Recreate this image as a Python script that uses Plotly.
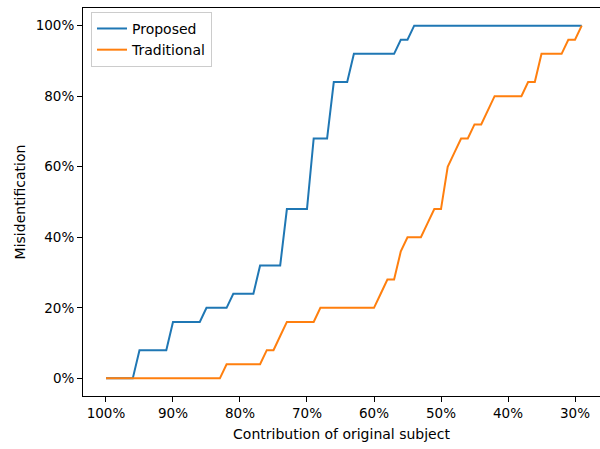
import plotly.graph_objects as go

# Contribution of original subject (%), from 100% down to 29%
contribution = list(range(100, 28, -1))

proposed = [
    0, 0, 0, 0, 0,            # 100-96
    8, 8, 8, 8, 8,            # 95-91
    16, 16, 16, 16, 16,       # 90-86
    20, 20, 20, 20,           # 85-82
    24, 24, 24, 24,           # 81-78
    32, 32, 32, 32,           # 77-74
    48, 48, 48, 48,           # 73-70
    68, 68, 68,               # 69-67
    84, 84, 84,               # 66-64
    92, 92, 92, 92, 92, 92, 92,  # 63-57
    96, 96,                   # 56-55
] + [100] * 26                # 54-29

traditional = [0] * 18 + [   # 100-83
    4, 4, 4, 4, 4, 4,         # 82-77
    8, 8,                     # 76-75
    12,                       # 74
    16, 16, 16, 16, 16,       # 73-69
    20, 20, 20, 20, 20, 20, 20, 20, 20,  # 68-60
    24, 28, 28, 36, 40, 40, 40, 44, 48, 48,  # 59-50
    60, 64, 68, 68, 72, 72, 76,  # 49-43
    80, 80, 80, 80, 80,       # 42-38
    84, 84,                   # 37-36
    92, 92, 92, 92,           # 35-32
    96, 96,                   # 31-30
    100,                      # 29
]

x_ticks = [100, 90, 80, 70, 60, 50, 40, 30]
x_tick_labels = ["100%", "90%", "80%", "70%", "60%", "50%", "40%", "30%"]
y_ticks = [0, 20, 40, 60, 80, 100]
y_tick_labels = ["0%", "20%", "40%", "60%", "80%", "100%"]

fig = go.Figure()
fig.add_trace(go.Scatter(x=contribution, y=proposed, mode="lines", name="Proposed",
                         line=dict(color="#1f77b4", width=2)))
fig.add_trace(go.Scatter(x=contribution, y=traditional, mode="lines", name="Traditional",
                         line=dict(color="#ff7f0e", width=2)))

font = dict(family="DejaVu Sans", size=14, color="#000000")
fig.update_layout(
    width=600, height=449,
    margin=dict(l=83, r=0, t=8, b=53),
    paper_bgcolor="white", plot_bgcolor="white",
    font=font,
    showlegend=True,
    legend=dict(x=0.0155, y=0.99, xanchor="left", yanchor="top",
                bgcolor="rgba(255,255,255,0.8)", bordercolor="#cccccc", borderwidth=1,
                font=dict(family="DejaVu Sans", size=14, color="#000000"),
                itemwidth=30, tracegroupgap=0),
)
fig.update_xaxes(
    range=[103.43, 26.27], tickmode="array", tickvals=x_ticks, ticktext=x_tick_labels,
    showgrid=False, zeroline=False,
    showline=True, linecolor="black", linewidth=1, mirror=True,
    ticks="outside", ticklen=5, tickcolor="black", tickwidth=1,
    tickfont=dict(family="DejaVu Sans", size=13.5, color="#000000"),
    title=dict(text="Contribution of original subject", standoff=8,
               font=dict(family="DejaVu Sans", size=14, color="#000000")),
)
fig.update_yaxes(
    range=[-5, 105], tickmode="array", tickvals=y_ticks, ticktext=y_tick_labels,
    showgrid=False, zeroline=False,
    showline=True, linecolor="black", linewidth=1, mirror=False,
    ticks="outside", ticklen=5, tickcolor="black", tickwidth=1,
    tickfont=dict(family="DejaVu Sans", size=13.5, color="#000000"),
    title=dict(text="Misidentification", standoff=6,
               font=dict(family="DejaVu Sans", size=14, color="#000000")),
)

fig.write_html("out.html")
